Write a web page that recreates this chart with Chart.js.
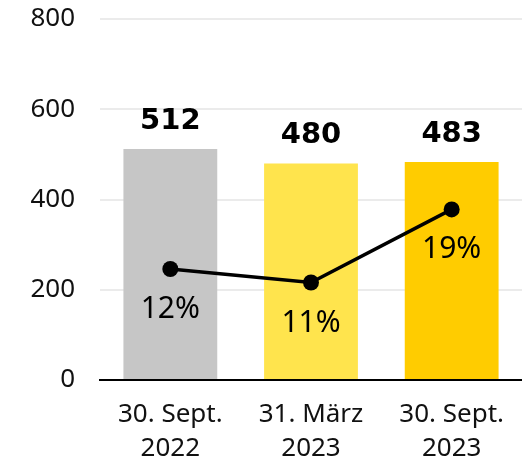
<!DOCTYPE html>
<html>
<head>
<meta charset="utf-8">
<script src="https://cdn.jsdelivr.net/npm/chart.js@4"></script>
<style>
  html, body { margin: 0; padding: 0; background: #fff; overflow: hidden; }
  canvas { display: block; }
</style>
</head>
<body>
<canvas id="chart" width="522" height="461"></canvas>
<script>
var chart_labels = [
  ["30. Sept.", "2022"],
  ["31. März", "2023"],
  ["30. Sept.", "2023"],
];

var bar_values = [512, 480, 483];
var bar_colors = ["#c6c6c6", "#ffe44d", "#ffcc00"];

// share in percent, plotted on a hidden 0-40 axis
var pct_values = [12.3, 10.8, 18.9];

const labelPlugin = {
  id: "labels",
  afterDatasetsDraw(chart) {
    const c = chart.ctx;
    c.save();
    c.fillStyle = "#000";
    c.textAlign = "center";
    c.textBaseline = "alphabetic";

    const bars = chart.getDatasetMeta(0).data;
    c.font = "bold 29px 'DejaVu Sans'";
    bars.forEach(function (el, i) {
      c.fillText(String(bar_values[i]), el.x, el.y - 20);
    });

    const pts = chart.getDatasetMeta(1).data;
    c.font = "30px 'Noto Sans'";
    pts.forEach(function (el, i) {
      c.fillText(Math.round(pct_values[i]) + "%", el.x, el.y + 49);
    });
    c.restore();
  },
};

const ctx = document.getElementById("chart");

const chart = new Chart(ctx, {
  type: "bar",
  data: {
    labels: chart_labels,
    datasets: [
      {
        label: "Wert",
        data: bar_values,
        backgroundColor: bar_colors,
        borderWidth: 0,
        barPercentage: 0.667,
        categoryPercentage: 1,
        yAxisID: "y",
        order: 2,
      },
      {
        type: "line",
        label: "Anteil",
        data: pct_values,
        borderColor: "#000",
        borderWidth: 3.5,
        pointRadius: 8,
        pointBackgroundColor: "#000",
        pointBorderWidth: 0,
        tension: 0,
        yAxisID: "y1",
        order: 1,
      },
    ],
  },
  options: {
    responsive: false,
    animation: false,
    layout: {
      autoPadding: false,
      padding: { top: 19, left: 0, right: 0, bottom: 0 },
    },
    plugins: {
      legend: { display: false },
      tooltip: { enabled: false },
    },
    scales: {
      x: {
        afterFit: function (scale) {
          scale.height = 81;
          scale.paddingLeft = 0;
          scale.paddingRight = 0;
        },
        grid: { display: false },
        border: { display: true, color: "#000", width: 2 },
        ticks: {
          color: "#111",
          padding: 10,
          maxRotation: 0,
          font: { family: "Noto Sans", size: 26, lineHeight: 1.3 },
        },
      },
      y: {
        min: 0,
        max: 800,
        afterFit: function (scale) {
          scale.width = 100;
          scale.paddingTop = 0;
          scale.paddingBottom = 0;
        },
        ticks: {
          stepSize: 200,
          color: "#111",
          padding: 25,
          font: { family: "Noto Sans", size: 26 },
        },
        grid: {
          drawTicks: false,
          lineWidth: 2,
          color: function (context) {
            return context.tick && context.tick.value === 0 ? "#000" : "#ebebeb";
          },
        },
        border: { display: false },
      },
      y1: {
        display: false,
        min: 0,
        max: 40,
      },
    },
  },
  plugins: [labelPlugin],
});
</script>
</body>
</html>
